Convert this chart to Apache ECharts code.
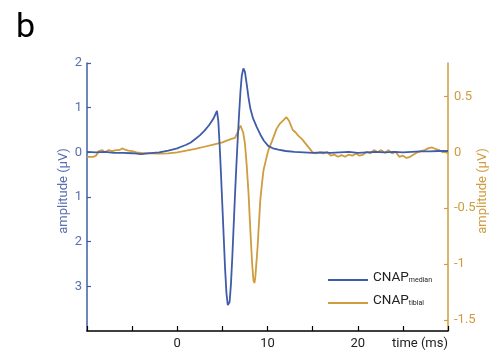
<!DOCTYPE html>
<html><head><meta charset="utf-8">
<script src="https://cdn.jsdelivr.net/npm/echarts@6/dist/echarts.min.js"></script>
<style>html,body{margin:0;padding:0;background:#fff}#c{width:496px;height:350px}</style>
</head><body><div id="c"></div>
<script>
const tMedian = [-10,-9,-8,-7,-6,-5,-4,-3.5,-3,-2,-1,0,0.5,1,1.5,2,2.5,3,3.5,4,4.2,4.4,4.55,4.7,4.85,5.0,5.15,5.3,5.45,5.6,5.7,5.8,5.95,6.1,6.25,6.4,6.55,6.7,6.85,7.0,7.15,7.33,7.5,7.7,7.9,8.1,8.4,8.8,9.2,9.6,10.1,10.6,11.2,12,13,14,15,16,17,18,19,20,21,22,23,24,25,26,27,28,29,30];
const vMedian = [0.01,0.0,0.01,-0.01,-0.01,-0.02,-0.04,-0.03,-0.02,0.0,0.04,0.09,0.13,0.17,0.22,0.3,0.38,0.48,0.6,0.75,0.84,0.93,0.7,0.15,-0.5,-1.2,-1.9,-2.6,-3.15,-3.42,-3.44,-3.35,-2.95,-2.35,-1.65,-0.95,-0.3,0.3,0.85,1.35,1.72,1.88,1.8,1.52,1.22,0.98,0.76,0.57,0.4,0.26,0.14,0.09,0.06,0.03,0.01,0.0,-0.01,0.0,-0.01,0.0,0.01,-0.01,0.0,0.01,0.0,0.01,0.0,0.01,0.02,0.02,0.03,0.03];
const tTibial = [-10,-9.3,-9,-8.7,-8.3,-8,-7.6,-7.2,-6.8,-6.4,-6.1,-5.8,-5.4,-5,-4.5,-4,-3,-2,-1,0,1,2,3,4,5,5.5,6.0,6.4,6.7,7.0,7.15,7.3,7.5,7.7,7.9,8.1,8.3,8.45,8.55,8.65,8.9,9.2,9.4,9.56,9.86,10.1,10.5,11.0,11.4,11.8,12.1,12.4,12.8,13.1,13.4,13.8,14.2,14.6,15.0,15.4,15.8,16.2,16.6,17.0,17.4,17.8,18.2,18.6,19.0,19.4,19.8,20.2,20.6,21.0,21.4,21.8,22.2,22.6,23.0,23.4,23.8,24.2,24.6,25.0,25.4,25.8,26.2,26.6,27.0,27.4,27.8,28.2,28.6,29.0,29.4,29.7,30];
const vTibial = [-0.04,-0.04,-0.03,0.01,0.02,0.0,0.02,0.01,0.02,0.02,0.035,0.025,0.015,0.01,0.0,-0.005,-0.01,-0.012,-0.01,0.0,0.015,0.03,0.05,0.07,0.09,0.105,0.12,0.13,0.18,0.24,0.23,0.18,0.08,-0.12,-0.37,-0.7,-1.0,-1.15,-1.17,-1.12,-0.85,-0.43,-0.27,-0.16,-0.056,0.02,0.1,0.21,0.26,0.29,0.315,0.28,0.2,0.18,0.15,0.12,0.08,0.04,0.0,-0.01,0.0,-0.01,0.005,-0.03,-0.02,-0.04,-0.025,-0.04,-0.02,-0.03,-0.01,-0.03,-0.02,0.005,-0.01,0.02,0.0,0.02,-0.005,0.02,-0.01,0.005,-0.04,-0.03,-0.05,-0.04,-0.02,0.0,0.01,0.02,0.035,0.045,0.03,0.02,0.0,0.01,-0.01];
const xTickLabels = [0,10,20];
const leftTicks = [2,1,0,-1,-2,-3];
const rightTicks = [0.5,0,-0.5,-1,-1.5];
const seriesNames = ['median','tibial'];

const BLUE = '#3f5ca8', GOLD = '#cf9c3e';
const FONT = 'Roboto';
const chart = echarts.init(document.getElementById('c'));
chart.setOption({
  animation: false,
  title: {text: 'b', left: 11, top: 6, padding: 5, textStyle: {fontSize: 34, fontWeight: 'normal', color: '#000', fontFamily: FONT}},
  grid: {left: 87, right: 48, top: 63, bottom: 19, containLabel: false, outerBoundsMode: 'none'},
  legend: {
    orient: 'vertical', left: 323, top: 266, itemWidth: 40, itemHeight: 2, itemGap: 9, icon: 'rect',
    data: seriesNames.map(n => 'CNAP_' + n),
    formatter: n => '{a|CNAP}{b|' + n.split('_')[1] + '}',
    textStyle: {fontFamily: FONT, rich: {
      a: {fontSize: 13.5, color: '#222', fontFamily: FONT, padding: [0,0,4,0]},
      b: {fontSize: 7, color: '#222', fontFamily: FONT}
    }}
  },
  xAxis: {
    type: 'value', min: -10, max: 30, interval: 5,
    axisLine: {onZero: false, lineStyle: {color: '#000', width: 1.5}},
    axisTick: {inside: true, length: 5, lineStyle: {color: '#000', width: 1.2}},
    axisLabel: {customValues: xTickLabels, color: '#222', fontSize: 13, fontFamily: FONT, margin: 6},
    splitLine: {show: false},
    name: 'time (ms)', nameLocation: 'end', nameGap: 0, nameMoveOverlap: false,
    nameTextStyle: {align: 'right', verticalAlign: 'top', padding: [6,0,0,0], color: '#222', fontSize: 13, fontFamily: FONT}
  },
  yAxis: [{
    type: 'value', min: -4, max: 2, interval: 1, position: 'left',
    axisLine: {show: true, onZero: false, lineStyle: {color: BLUE, width: 1.5}},
    axisTick: {show: true, inside: true, length: 4, customValues: leftTicks, lineStyle: {color: BLUE, width: 1.2}},
    axisLabel: {customValues: leftTicks, formatter: v => String(Math.abs(v)), color: '#5a6fb0', fontSize: 13, fontFamily: FONT, margin: 5},
    splitLine: {show: false},
    name: 'amplitude (μV)', nameLocation: 'middle', nameGap: 17, nameRotate: 90, nameMoveOverlap: false,
    nameTextStyle: {color: '#5a6fb0', fontSize: 13, fontFamily: FONT, padding: [0,0,0,12]}
  }, {
    type: 'value', min: -1.6, max: 0.8, position: 'right',
    axisLine: {show: true, onZero: false, lineStyle: {color: GOLD, width: 1.5}},
    axisTick: {show: true, inside: true, length: 4, customValues: rightTicks, lineStyle: {color: GOLD, width: 1.2}},
    axisLabel: {customValues: rightTicks, formatter: v => String(v), color: GOLD, fontSize: 13, fontFamily: FONT, margin: 6},
    splitLine: {show: false},
    name: 'amplitude (μV)', nameLocation: 'middle', nameGap: 28, nameRotate: 90, nameMoveOverlap: false,
    nameTextStyle: {color: GOLD, fontSize: 13, fontFamily: FONT, padding: [0,0,0,12]}
  }],
  series: [{
    name: 'CNAP_median', type: 'line', yAxisIndex: 0, symbol: 'none', z: 3,
    data: tMedian.map((t, i) => [t, vMedian[i]]),
    lineStyle: {color: BLUE, width: 1.8}, itemStyle: {color: BLUE}
  }, {
    name: 'CNAP_tibial', type: 'line', yAxisIndex: 1, symbol: 'none', z: 2,
    data: tTibial.map((t, i) => [t, vTibial[i]]),
    lineStyle: {color: GOLD, width: 1.8}, itemStyle: {color: GOLD}
  }]
});
</script></body></html>
